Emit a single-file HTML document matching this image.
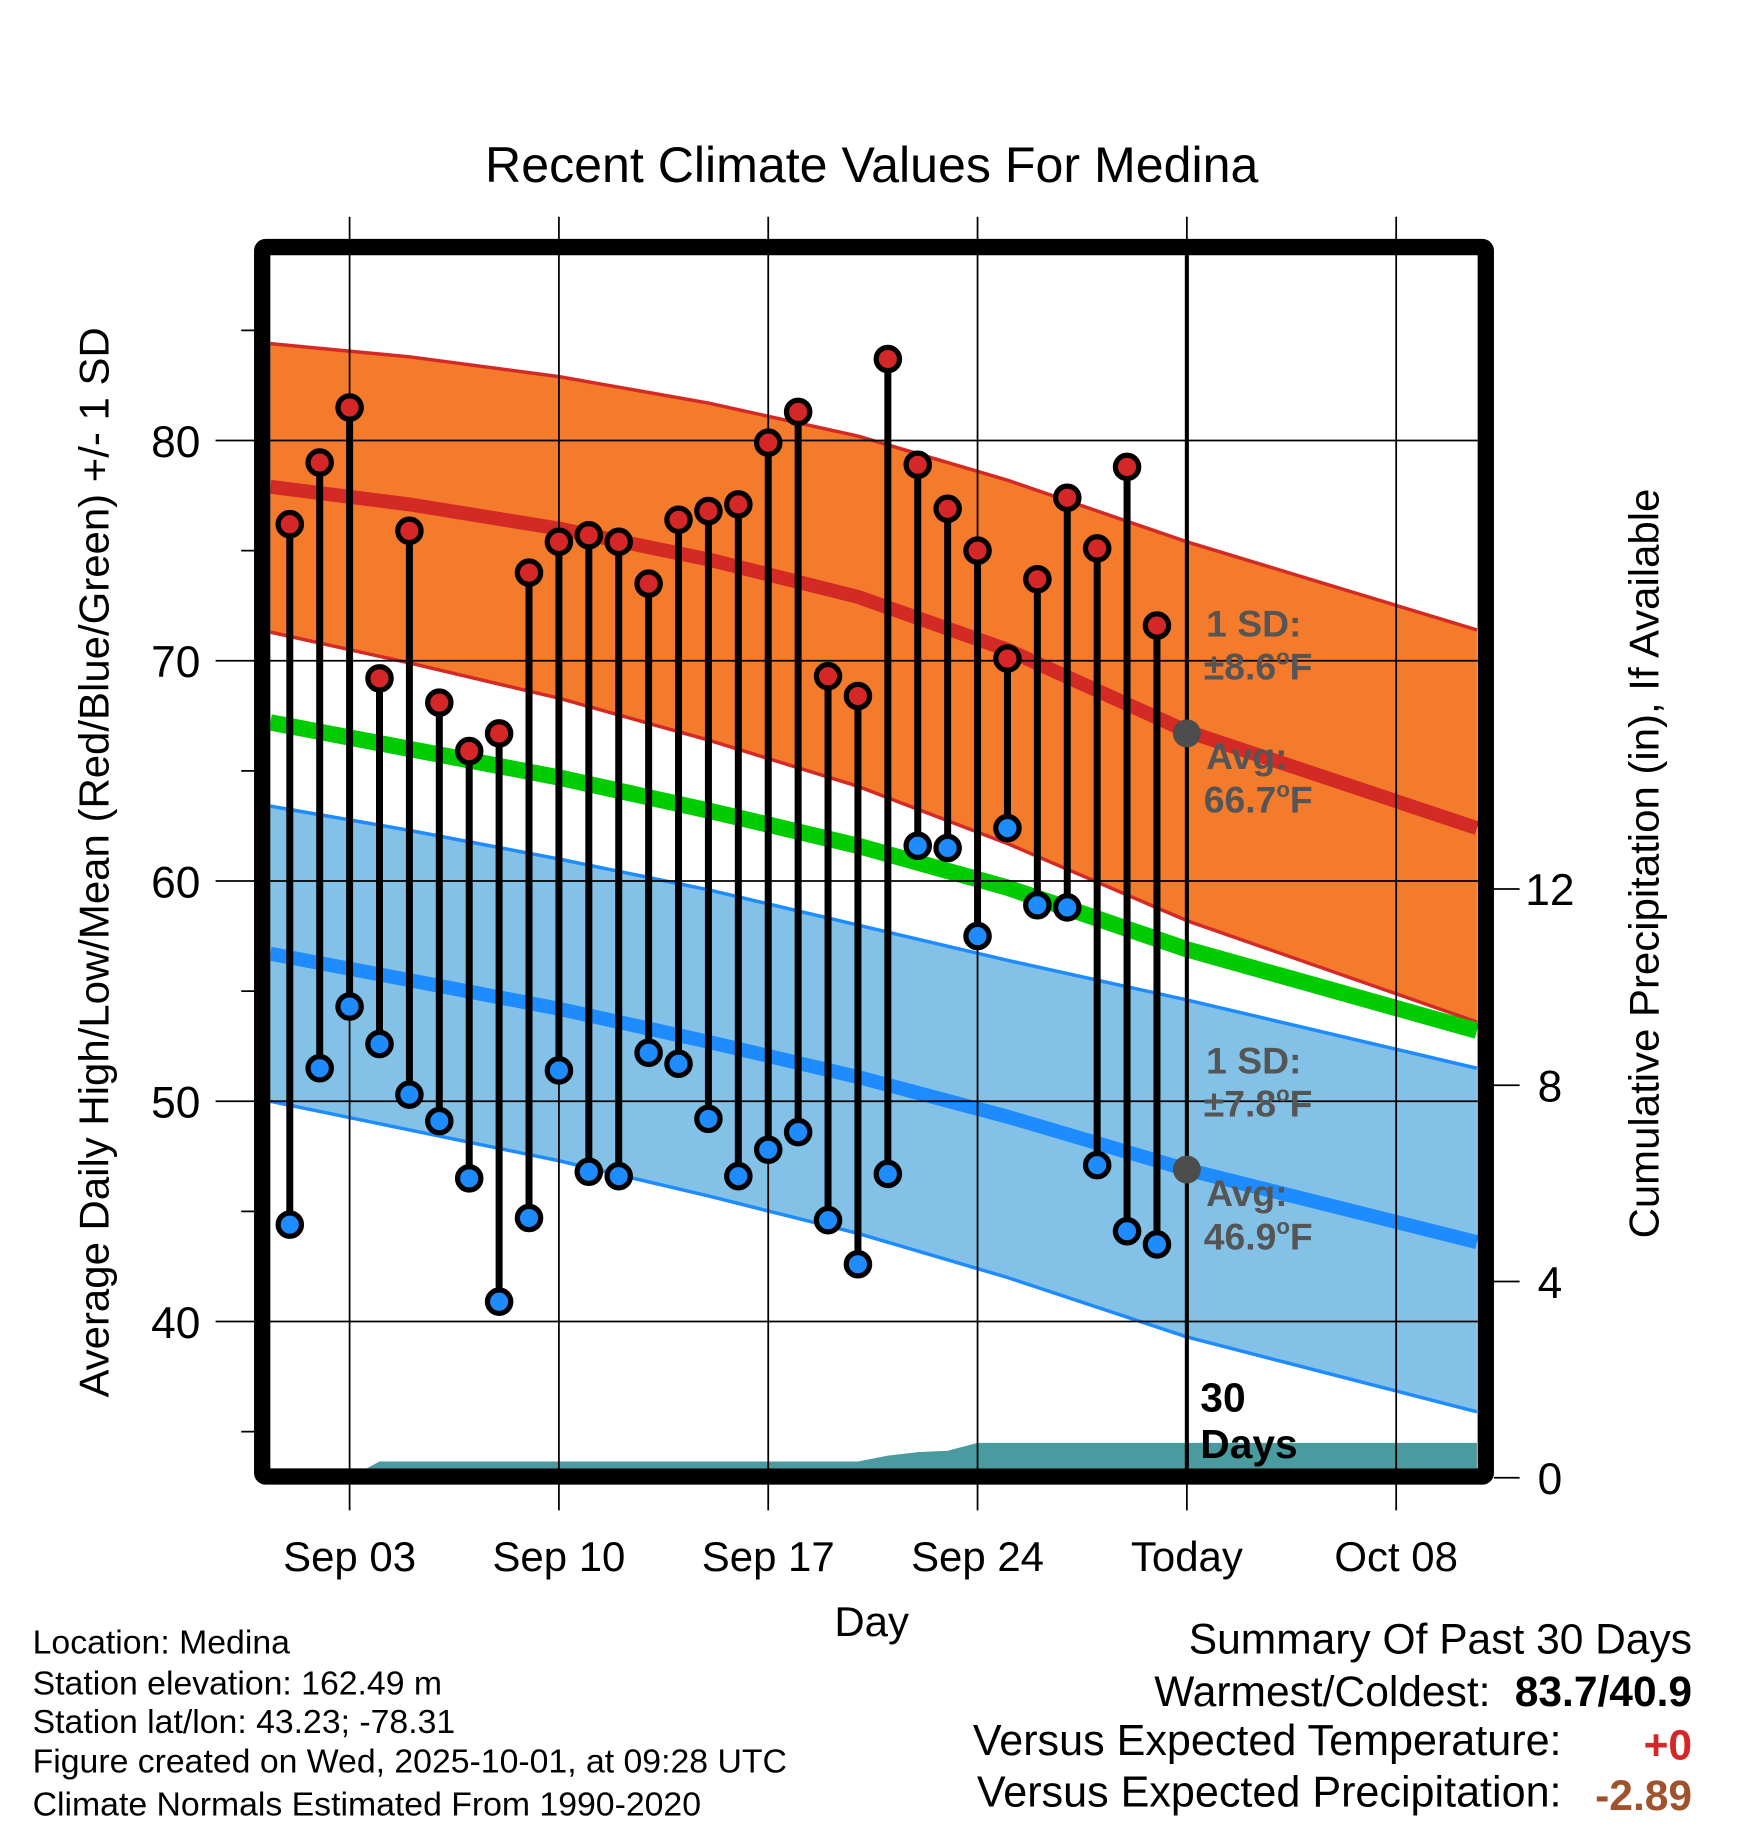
<!DOCTYPE html>
<html><head><meta charset="utf-8"><style>
html,body{margin:0;padding:0;background:#fff}
svg{display:block}
text{font-family:"Liberation Sans",sans-serif}
</style></head><body>
<svg id="chart" width="1748" height="1828" viewBox="0 0 1500 1568.6" preserveAspectRatio="none" xmlns="http://www.w3.org/2000/svg">
<g id="layer"></g>
</svg>
<script>
// ---- data ----
const days = [1,2,3,4,5,6,7,8,9,10,11,12,13,14,15,16,17,18,19,20,21,22,23,24,25,26,27,28,29,30];
const highs = [76.2,79.0,81.5,69.2,75.9,68.1,65.9,66.7,74.0,75.4,75.7,75.4,73.5,76.4,76.8,77.1,79.9,81.3,69.3,68.4,83.7,78.9,76.9,75.0,70.1,73.7,77.4,75.1,78.8,71.6];
const lows = [44.4,51.5,54.3,52.6,50.3,49.1,46.5,40.9,44.7,51.4,46.8,46.6,52.2,51.7,49.2,46.6,47.8,48.6,44.6,42.6,46.7,61.6,61.5,57.5,62.4,58.9,58.8,47.1,44.1,43.5];
const normDays = [0.35,5,10,15,20,25,31,40.7];
const highUpper = [84.4,83.8,82.9,81.7,80.2,78.2,75.4,71.4];
const highAvg = [77.9,77.1,76.0,74.6,72.9,70.5,66.8,62.4];
const highLower = [71.3,69.9,68.3,66.4,64.3,61.7,58.2,53.6];
const meanAvg = [67.2,66.0,64.7,63.2,61.6,59.7,56.9,53.2];
const lowUpper = [63.4,62.3,61.0,59.6,58.0,56.4,54.6,51.5];
const lowAvg = [56.7,55.5,54.2,52.7,51.1,49.3,46.9,43.6];
const lowLower = [50.0,48.7,47.3,45.7,44.0,42.0,39.3,35.9];
const precipDays = [0.35,3,4,20,21,22,23,24,40.7];
const precipCum = [0,0,0.33,0.33,0.45,0.52,0.55,0.71,0.71];
const yTicks = [40,50,60,70,80];
const yMinor = [35,45,55,65,75,85];
const pTicks = [0,4,8,12];
const xTickDays = [3,10,17,24,31,38];
const xTickLabels = ["Sep 03","Sep 10","Sep 17","Sep 24","Today","Oct 08"];

// ---- axes ----
const X0=232,X1=1268,Y0=219,Y1=1260;
const x = d => 300 + (d-3)*25.66;
const y = v => 378 - (v-80)*18.9;
const py = p => 1268 - p*42.1;

const NS="http://www.w3.org/2000/svg";
const layer=document.getElementById('layer');
function mk(tag,attrs,parent){const e=document.createElementNS(NS,tag);for(const k in attrs)e.setAttribute(k,attrs[k]);(parent||layer).appendChild(e);return e;}
function txt(s,attrs,parent){const e=mk('text',attrs,parent);e.textContent=s;return e;}

const clip=mk('clipPath',{id:'plotclip'});
mk('rect',{x:X0,y:Y0,width:X1-X0,height:Y1-Y0},clip);
const plot=mk('g',{'clip-path':'url(#plotclip)'});

function band(up,lo,fill,name){
  let pts=normDays.map((d,i)=>x(d)+','+y(up[i]));
  pts=pts.concat(normDays.slice().reverse().map((d,i)=>x(d)+','+y(lo[normDays.length-1-i])));
  const p=mk('polygon',{points:pts.join(' '),fill:fill},plot);
  
  
}
function line(vals,color,w,name){
  const p=mk('polyline',{points:normDays.map((d,i)=>x(d)+','+y(vals[i])).join(' '),fill:'none',stroke:color,'stroke-width':w,'stroke-linejoin':'round'},plot);
  
  
}
band(highUpper,highLower,'#f47a2c','high-sd-band');
line(highUpper,'#d42a25',3,'high-upper-line');
line(highLower,'#d42a25',3,'high-lower-line');
band(lowUpper,lowLower,'#83c1e7','low-sd-band');
line(lowUpper,'#1e8cff',3,'low-upper-line');
line(lowLower,'#1e8cff',3,'low-lower-line');
line(highAvg,'#d42a25',12,'high-avg-line');
line(meanAvg,'#00cc00',14,'mean-avg-line');
line(lowAvg,'#1e8cff',12,'low-avg-line');

// precip
{
  let pts=precipDays.map((d,i)=>x(d)+','+py(precipCum[i]));
  pts.push(x(40.7)+','+1270); pts.push(x(0.35)+','+1270);
  const p=mk('polygon',{points:pts.join(' '),fill:'#4a9ba0'},plot);
  
  
}

// grid
yTicks.forEach(v=>{
  const l=mk('line',{x1:185,x2:X1,y1:y(v),y2:y(v),stroke:'#000','stroke-width':1.5});
  
  
  const t=txt(String(v),{x:172,y:y(v)+14,'font-size':38,'text-anchor':'end',fill:'#000'});
  
  
});
yMinor.forEach(v=>{
  const l=mk('line',{x1:207,x2:218,y1:y(v),y2:y(v),stroke:'#000','stroke-width':1.5});
  
  
});
xTickDays.forEach((d,i)=>{
  const l=mk('line',{x1:x(d),x2:x(d),y1:186,y2:1296,stroke:'#000','stroke-width':1.5});
  
  
  const t=txt(xTickLabels[i],{x:x(d),y:1348,'font-size':36,'text-anchor':'middle',fill:'#000'});
  
  
});
pTicks.forEach(p=>{
  const l=mk('line',{x1:1282,x2:1304,y1:py(p),y2:py(p),stroke:'#000','stroke-width':1.5});
  
  
  const t=txt(String(p),{x:1330,y:py(p)+14,'font-size':38,'text-anchor':'middle',fill:'#000'});
  
  
});

// today line
{
  const l=mk('line',{x1:x(31),x2:x(31),y1:Y0,y2:Y1,stroke:'#000','stroke-width':3.5});
  
  
}

// stems and dots
days.forEach((d,i)=>{
  const s=mk('line',{x1:x(d),x2:x(d),y1:y(highs[i]),y2:y(lows[i]),stroke:'#000','stroke-width':6});
  
  
});
days.forEach((d,i)=>{
  const h=mk('circle',{cx:x(d),cy:y(highs[i]),r:10,fill:'#d62728',stroke:'#000','stroke-width':4.5});
  
  
  const l=mk('circle',{cx:x(d),cy:y(lows[i]),r:10,fill:'#1e8cff',stroke:'#000','stroke-width':4.5});
  
  
});

// today avg markers
[66.7,46.9].forEach(v=>{
  const c=mk('circle',{cx:x(31),cy:y(v),r:12,fill:'#4d4d4d'});
  
  
});

// frame
{
  const f=mk('rect',{x:225,y:212,width:1050,height:1055,fill:'none',stroke:'#000','stroke-width':14,rx:3});
  
  
}
</script>
<svg style="position:absolute;left:0;top:0" width="1748" height="1828" viewBox="0 0 1500 1568.6" preserveAspectRatio="none" xmlns="http://www.w3.org/2000/svg">
<g font-family="Liberation Sans, sans-serif">
<text x="748" y="156" font-size="43" text-anchor="middle">Recent Climate Values For Medina</text>
<text x="748" y="1404" font-size="36" text-anchor="middle">Day</text>
<text transform="translate(93,740) rotate(-90)" font-size="36" text-anchor="middle">Average Daily High/Low/Mean (Red/Blue/Green) +/- 1 SD</text>
<text transform="translate(1423,741) rotate(-90)" font-size="36" text-anchor="middle">Cumulative Precipitation (in), If Available</text>
<g font-weight="bold" font-size="32" fill="#555">
<text x="1035" y="546">1 SD:</text>
<text x="1033" y="583">±8.6<tspan font-size="19" dy="-13">o</tspan><tspan dy="13">F</tspan></text>
<text x="1035" y="660">Avg:</text>
<text x="1033" y="697">66.7<tspan font-size="19" dy="-13">o</tspan><tspan dy="13">F</tspan></text>
<text x="1035" y="921">1 SD:</text>
<text x="1033" y="958">±7.8<tspan font-size="19" dy="-13">o</tspan><tspan dy="13">F</tspan></text>
<text x="1035" y="1035">Avg:</text>
<text x="1033" y="1072">46.9<tspan font-size="19" dy="-13">o</tspan><tspan dy="13">F</tspan></text>
</g>
<g font-weight="bold" font-size="35" fill="#000">
<text x="1030" y="1211">30</text>
<text x="1030" y="1251">Days</text>
</g>
<g font-size="29" fill="#000">
<text x="28" y="1419">Location: Medina</text>
<text x="28" y="1454">Station elevation: 162.49 m</text>
<text x="28" y="1487">Station lat/lon: 43.23; -78.31</text>
<text x="28" y="1521">Figure created on Wed, 2025-10-01, at 09:28 UTC</text>
<text x="28" y="1558">Climate Normals Estimated From 1990-2020</text>
</g>
<g font-size="36.5" fill="#000" text-anchor="end">
<text x="1452" y="1419">Summary Of Past 30 Days</text>
<text x="1279" y="1464">Warmest/Coldest:</text>
<text x="1452" y="1464" font-weight="bold">83.7/40.9</text>
<text x="1340" y="1506" font-size="37">Versus Expected Temperature:</text>
<text x="1452" y="1510" font-weight="bold" fill="#d62728">+0</text>
<text x="1340" y="1550" font-size="37">Versus Expected Precipitation:</text>
<text x="1452" y="1553" font-weight="bold" fill="#a0522d">-2.89</text>
</g>
</g>
</svg>
</body></html>
